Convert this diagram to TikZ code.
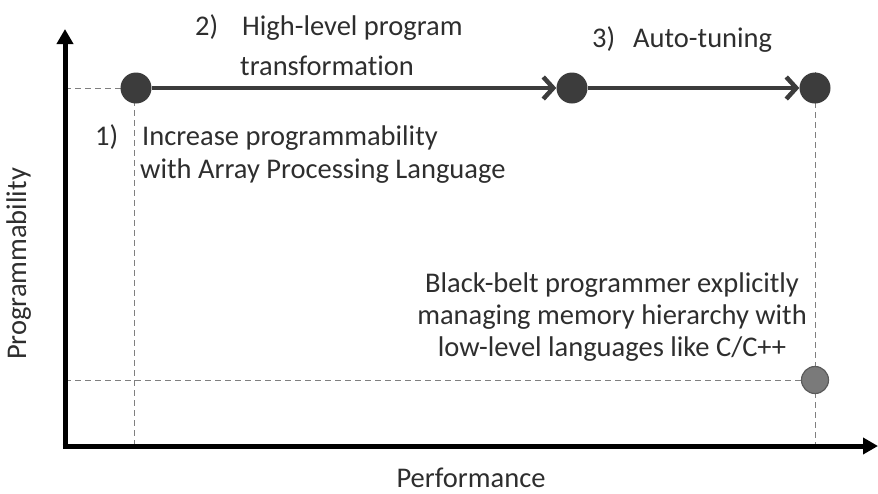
\documentclass[tikz,border=0pt]{standalone}
\usepackage{fontspec}
\setmainfont[Ligatures=NoCommon]{Carlito}
\usetikzlibrary{arrows.meta}
\definecolor{dotdark}{HTML}{3C3C3C}
\definecolor{dotgray}{HTML}{7A7A7A}
\definecolor{guidegray}{HTML}{7F7F7F}
\definecolor{txt}{HTML}{2E2E2E}
\begin{document}
\begin{tikzpicture}[x=1pt,y=-1pt,
  lbl/.style={text=txt,font=\fontsize{28.5}{34}\selectfont,inner sep=0pt,anchor=base},
  axis/.style={line width=5pt,-{Triangle[length=15pt,width=16pt]}},
  guide/.style={dash pattern=on 6pt off 4pt,line width=1pt,draw=guidegray},
  flow/.style={line width=4.5pt,draw=dotdark,-{Straight Barb[length=10pt,width=22pt,line width=4.5pt]}},
  stage/.style={circle,fill=dotdark,minimum size=31pt,inner sep=0pt},
  base/.style={circle,fill=dotgray,draw=dotgray!75!black,line width=1.2pt,minimum size=27pt,inner sep=0pt}]
\useasboundingbox (0,0) rectangle (878,493);

% axes and guide anchors
\coordinate (o) at (65,446);
\coordinate (ytop) at (65,29);
\coordinate (xend) at (878,446);
\coordinate (y1) at (65,88);
\coordinate (y2) at (65,380);
\coordinate (x1) at (134,446);
\coordinate (x3) at (815,446);
\coordinate (t1) at (134,100);
\coordinate (t3) at (815,72);

% guide lines (drawn first, dots cover them)
\draw[guide] (y1) -- (136,88);
\draw[guide] (t1) -- (x1);
\draw[guide] (y2) -- (815,380);
\draw[guide] (t3) -- (x3);

% stages
\node[stage] (s1) at (136,88) {};
\node[stage] (s2) at (572,88) {};
\node[stage] (s3) at (815,88) {};
\node[base] (b) at (815,380) {};

\draw[axis] (o) -- (ytop);
\draw[axis] ([xshift=-2.5pt]o) -- (xend);

% transitions
\draw[flow] (s1.east) -- (s2.west);
\draw[flow] (s2.east) -- (s3.west);

% labels
\node[lbl,anchor=base west] (n2) at (195,35) {2)};
\node[lbl,anchor=base west] (h2) at (242,35) {High-level program};
\node[lbl,anchor=base west] (h2b) at (240,75) {transformation};
\node[lbl,anchor=base west] (n3) at (592,47) {3)};
\node[lbl,anchor=base west] (h3) at (633,47) {Auto-tuning};
\node[lbl,anchor=base west] (n1) at (95,145) {1)};
\node[lbl,anchor=base west] (h1) at (142,145) {Increase programmability};
\node[lbl,anchor=base west] (h1b) at (140,178) {with Array Processing Language};
\node[lbl] (hb1) at (612,292) {Black-belt programmer explicitly};
\node[lbl] (hb2) at (612,324) {managing memory hierarchy with};
\node[lbl] (hb3) at (612,356) {low-level languages like C/C++};
\node[lbl,rotate=90] (ylab) at (26,264) {Programmability};
\node[lbl] (xlab) at (471,487) {Performance};
\end{tikzpicture}
\end{document}
